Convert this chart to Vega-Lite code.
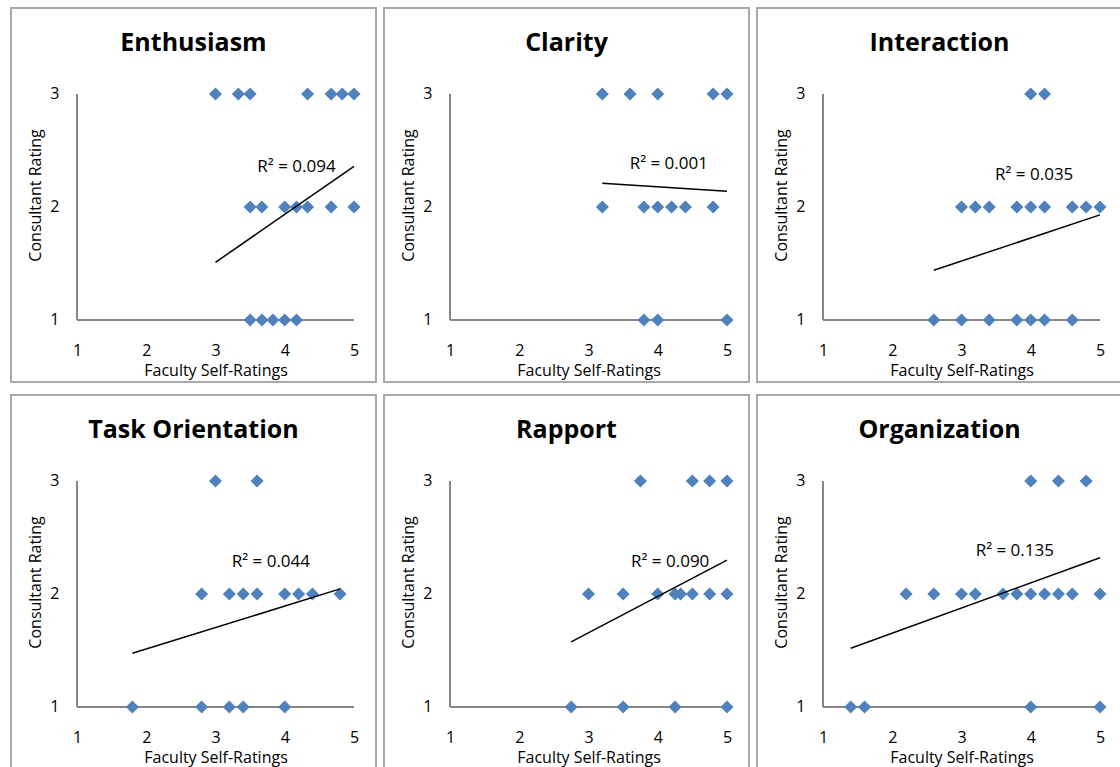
{
  "$schema": "https://vega.github.io/schema/vega-lite/v6.json",
  "padding": {"left": 10, "top": 7, "right": 0, "bottom": 0},
  "background": "white",
  "datasets": {
    "pts": [
      {"panel": "Enthusiasm", "x": 3.0, "y": 3}, {"panel": "Enthusiasm", "x": 3.33, "y": 3}, {"panel": "Enthusiasm", "x": 3.5, "y": 3}, {"panel": "Enthusiasm", "x": 4.33, "y": 3}, {"panel": "Enthusiasm", "x": 4.67, "y": 3}, {"panel": "Enthusiasm", "x": 4.83, "y": 3}, {"panel": "Enthusiasm", "x": 5.0, "y": 3},
      {"panel": "Enthusiasm", "x": 3.5, "y": 2}, {"panel": "Enthusiasm", "x": 3.67, "y": 2}, {"panel": "Enthusiasm", "x": 4.0, "y": 2}, {"panel": "Enthusiasm", "x": 4.17, "y": 2}, {"panel": "Enthusiasm", "x": 4.33, "y": 2}, {"panel": "Enthusiasm", "x": 4.67, "y": 2}, {"panel": "Enthusiasm", "x": 5.0, "y": 2},
      {"panel": "Enthusiasm", "x": 3.5, "y": 1}, {"panel": "Enthusiasm", "x": 3.67, "y": 1}, {"panel": "Enthusiasm", "x": 3.83, "y": 1}, {"panel": "Enthusiasm", "x": 4.0, "y": 1}, {"panel": "Enthusiasm", "x": 4.17, "y": 1},
      {"panel": "Clarity", "x": 3.2, "y": 3}, {"panel": "Clarity", "x": 3.6, "y": 3}, {"panel": "Clarity", "x": 4.0, "y": 3}, {"panel": "Clarity", "x": 4.8, "y": 3}, {"panel": "Clarity", "x": 5.0, "y": 3},
      {"panel": "Clarity", "x": 3.2, "y": 2}, {"panel": "Clarity", "x": 3.8, "y": 2}, {"panel": "Clarity", "x": 4.0, "y": 2}, {"panel": "Clarity", "x": 4.2, "y": 2}, {"panel": "Clarity", "x": 4.4, "y": 2}, {"panel": "Clarity", "x": 4.8, "y": 2},
      {"panel": "Clarity", "x": 3.8, "y": 1}, {"panel": "Clarity", "x": 4.0, "y": 1}, {"panel": "Clarity", "x": 5.0, "y": 1},
      {"panel": "Interaction", "x": 4.0, "y": 3}, {"panel": "Interaction", "x": 4.2, "y": 3},
      {"panel": "Interaction", "x": 3.0, "y": 2}, {"panel": "Interaction", "x": 3.2, "y": 2}, {"panel": "Interaction", "x": 3.4, "y": 2}, {"panel": "Interaction", "x": 3.8, "y": 2}, {"panel": "Interaction", "x": 4.0, "y": 2}, {"panel": "Interaction", "x": 4.2, "y": 2}, {"panel": "Interaction", "x": 4.6, "y": 2}, {"panel": "Interaction", "x": 4.8, "y": 2}, {"panel": "Interaction", "x": 5.0, "y": 2},
      {"panel": "Interaction", "x": 2.6, "y": 1}, {"panel": "Interaction", "x": 3.0, "y": 1}, {"panel": "Interaction", "x": 3.4, "y": 1}, {"panel": "Interaction", "x": 3.8, "y": 1}, {"panel": "Interaction", "x": 4.0, "y": 1}, {"panel": "Interaction", "x": 4.2, "y": 1}, {"panel": "Interaction", "x": 4.6, "y": 1},
      {"panel": "Task Orientation", "x": 3.0, "y": 3}, {"panel": "Task Orientation", "x": 3.6, "y": 3},
      {"panel": "Task Orientation", "x": 2.8, "y": 2}, {"panel": "Task Orientation", "x": 3.2, "y": 2}, {"panel": "Task Orientation", "x": 3.4, "y": 2}, {"panel": "Task Orientation", "x": 3.6, "y": 2}, {"panel": "Task Orientation", "x": 4.0, "y": 2}, {"panel": "Task Orientation", "x": 4.2, "y": 2}, {"panel": "Task Orientation", "x": 4.4, "y": 2}, {"panel": "Task Orientation", "x": 4.8, "y": 2},
      {"panel": "Task Orientation", "x": 1.8, "y": 1}, {"panel": "Task Orientation", "x": 2.8, "y": 1}, {"panel": "Task Orientation", "x": 3.2, "y": 1}, {"panel": "Task Orientation", "x": 3.4, "y": 1}, {"panel": "Task Orientation", "x": 4.0, "y": 1},
      {"panel": "Rapport", "x": 3.75, "y": 3}, {"panel": "Rapport", "x": 4.5, "y": 3}, {"panel": "Rapport", "x": 4.75, "y": 3}, {"panel": "Rapport", "x": 5.0, "y": 3},
      {"panel": "Rapport", "x": 3.0, "y": 2}, {"panel": "Rapport", "x": 3.5, "y": 2}, {"panel": "Rapport", "x": 4.0, "y": 2}, {"panel": "Rapport", "x": 4.25, "y": 2}, {"panel": "Rapport", "x": 4.33, "y": 2}, {"panel": "Rapport", "x": 4.5, "y": 2}, {"panel": "Rapport", "x": 4.75, "y": 2}, {"panel": "Rapport", "x": 5.0, "y": 2},
      {"panel": "Rapport", "x": 2.75, "y": 1}, {"panel": "Rapport", "x": 3.5, "y": 1}, {"panel": "Rapport", "x": 4.25, "y": 1}, {"panel": "Rapport", "x": 5.0, "y": 1},
      {"panel": "Organization", "x": 4.0, "y": 3}, {"panel": "Organization", "x": 4.4, "y": 3}, {"panel": "Organization", "x": 4.8, "y": 3},
      {"panel": "Organization", "x": 2.2, "y": 2}, {"panel": "Organization", "x": 2.6, "y": 2}, {"panel": "Organization", "x": 3.0, "y": 2}, {"panel": "Organization", "x": 3.2, "y": 2}, {"panel": "Organization", "x": 3.6, "y": 2}, {"panel": "Organization", "x": 3.8, "y": 2}, {"panel": "Organization", "x": 4.0, "y": 2}, {"panel": "Organization", "x": 4.2, "y": 2}, {"panel": "Organization", "x": 4.4, "y": 2}, {"panel": "Organization", "x": 4.6, "y": 2}, {"panel": "Organization", "x": 5.0, "y": 2},
      {"panel": "Organization", "x": 1.4, "y": 1}, {"panel": "Organization", "x": 1.6, "y": 1}, {"panel": "Organization", "x": 4.0, "y": 1}, {"panel": "Organization", "x": 5.0, "y": 1}
    ],
    "trend": [
      {"panel": "Enthusiasm", "x": 3.0, "y": 1.51}, {"panel": "Enthusiasm", "x": 5.0, "y": 2.36},
      {"panel": "Clarity", "x": 3.2, "y": 2.21}, {"panel": "Clarity", "x": 5.0, "y": 2.14},
      {"panel": "Interaction", "x": 2.6, "y": 1.44}, {"panel": "Interaction", "x": 5.0, "y": 1.93},
      {"panel": "Task Orientation", "x": 1.8, "y": 1.475}, {"panel": "Task Orientation", "x": 4.8, "y": 2.045},
      {"panel": "Rapport", "x": 2.75, "y": 1.576}, {"panel": "Rapport", "x": 5.0, "y": 2.30},
      {"panel": "Organization", "x": 1.4, "y": 1.52}, {"panel": "Organization", "x": 5.0, "y": 2.32}
    ],
    "labels": [
      {"panel": "Enthusiasm", "x": 4.17, "y": 2.35, "label": "R² = 0.094"},
      {"panel": "Clarity", "x": 4.16, "y": 2.38, "label": "R² = 0.001"},
      {"panel": "Interaction", "x": 4.05, "y": 2.28, "label": "R² = 0.035"},
      {"panel": "Task Orientation", "x": 3.8, "y": 2.28, "label": "R² = 0.044"},
      {"panel": "Rapport", "x": 4.18, "y": 2.285, "label": "R² = 0.090"},
      {"panel": "Organization", "x": 3.77, "y": 2.38, "label": "R² = 0.135"}
    ],
    "axisline": [{"part": "axis"}]
  },
  "vconcat": [
    {
      "hconcat": [
        {
          "title": "Enthusiasm", "width": 365, "height": 374,
          "layer": [
            {"data": {"name": "axisline"}, "mark": {"type": "rule", "color": "#868686", "strokeWidth": 2}, "encoding": {"x": {"datum": 1, "type": "quantitative"}, "x2": {"datum": 5}, "y": {"datum": 1, "type": "quantitative"}}},
            {"data": {"name": "axisline"}, "mark": {"type": "rule", "color": "#868686", "strokeWidth": 2}, "encoding": {"x": {"datum": 1, "type": "quantitative"}, "y": {"datum": 1, "type": "quantitative"}, "y2": {"datum": 3}}},
            {"data": {"name": "pts"}, "transform": [{"filter": "datum.panel === 'Enthusiasm'"}], "mark": {"type": "point", "shape": "diamond", "filled": true, "size": 170, "color": "#4F81BD", "opacity": 1},
             "encoding": {
              "x": {"field": "x", "type": "quantitative", "scale": {"domain": [0.047, 5.318], "nice": false, "zero": false}, "axis": {"values": [1, 2, 3, 4, 5], "format": "d", "title": "Faculty Self-Ratings", "titleX": 204.5}},
              "y": {"field": "y", "type": "quantitative", "scale": {"domain": [0.451, 3.761], "nice": false, "zero": false}, "axis": {"values": [1, 2, 3], "format": "d", "title": "Consultant Rating"}}}},
            {"data": {"name": "trend"}, "transform": [{"filter": "datum.panel === 'Enthusiasm'"}], "mark": {"type": "line", "color": "#000000", "strokeWidth": 1.5},
             "encoding": {"x": {"field": "x", "type": "quantitative"}, "y": {"field": "y", "type": "quantitative"}}},
            {"data": {"name": "labels"}, "transform": [{"filter": "datum.panel === 'Enthusiasm'"}], "mark": {"type": "text", "font": "Open Sans", "fontSize": 17, "color": "#000000", "align": "center", "baseline": "middle"},
             "encoding": {"x": {"field": "x", "type": "quantitative"}, "y": {"field": "y", "type": "quantitative"}, "text": {"field": "label"}}}
          ]
        },
        {
          "title": "Clarity", "width": 365, "height": 374,
          "layer": [
            {"data": {"name": "axisline"}, "mark": {"type": "rule", "color": "#868686", "strokeWidth": 2}, "encoding": {"x": {"datum": 1, "type": "quantitative"}, "x2": {"datum": 5}, "y": {"datum": 1, "type": "quantitative"}}},
            {"data": {"name": "axisline"}, "mark": {"type": "rule", "color": "#868686", "strokeWidth": 2}, "encoding": {"x": {"datum": 1, "type": "quantitative"}, "y": {"datum": 1, "type": "quantitative"}, "y2": {"datum": 3}}},
            {"data": {"name": "pts"}, "transform": [{"filter": "datum.panel === 'Clarity'"}], "mark": {"type": "point", "shape": "diamond", "filled": true, "size": 170, "color": "#4F81BD", "opacity": 1},
             "encoding": {
              "x": {"field": "x", "type": "quantitative", "scale": {"domain": [0.047, 5.318], "nice": false, "zero": false}, "axis": {"values": [1, 2, 3, 4, 5], "format": "d", "title": "Faculty Self-Ratings", "titleX": 204.5}},
              "y": {"field": "y", "type": "quantitative", "scale": {"domain": [0.451, 3.761], "nice": false, "zero": false}, "axis": {"values": [1, 2, 3], "format": "d", "title": "Consultant Rating"}}}},
            {"data": {"name": "trend"}, "transform": [{"filter": "datum.panel === 'Clarity'"}], "mark": {"type": "line", "color": "#000000", "strokeWidth": 1.5},
             "encoding": {"x": {"field": "x", "type": "quantitative"}, "y": {"field": "y", "type": "quantitative"}}},
            {"data": {"name": "labels"}, "transform": [{"filter": "datum.panel === 'Clarity'"}], "mark": {"type": "text", "font": "Open Sans", "fontSize": 17, "color": "#000000", "align": "center", "baseline": "middle"},
             "encoding": {"x": {"field": "x", "type": "quantitative"}, "y": {"field": "y", "type": "quantitative"}, "text": {"field": "label"}}}
          ]
        },
        {
          "title": "Interaction", "width": 365, "height": 374,
          "layer": [
            {"data": {"name": "axisline"}, "mark": {"type": "rule", "color": "#868686", "strokeWidth": 2}, "encoding": {"x": {"datum": 1, "type": "quantitative"}, "x2": {"datum": 5}, "y": {"datum": 1, "type": "quantitative"}}},
            {"data": {"name": "axisline"}, "mark": {"type": "rule", "color": "#868686", "strokeWidth": 2}, "encoding": {"x": {"datum": 1, "type": "quantitative"}, "y": {"datum": 1, "type": "quantitative"}, "y2": {"datum": 3}}},
            {"data": {"name": "pts"}, "transform": [{"filter": "datum.panel === 'Interaction'"}], "mark": {"type": "point", "shape": "diamond", "filled": true, "size": 170, "color": "#4F81BD", "opacity": 1},
             "encoding": {
              "x": {"field": "x", "type": "quantitative", "scale": {"domain": [0.047, 5.318], "nice": false, "zero": false}, "axis": {"values": [1, 2, 3, 4, 5], "format": "d", "title": "Faculty Self-Ratings", "titleX": 204.5}},
              "y": {"field": "y", "type": "quantitative", "scale": {"domain": [0.451, 3.761], "nice": false, "zero": false}, "axis": {"values": [1, 2, 3], "format": "d", "title": "Consultant Rating"}}}},
            {"data": {"name": "trend"}, "transform": [{"filter": "datum.panel === 'Interaction'"}], "mark": {"type": "line", "color": "#000000", "strokeWidth": 1.5},
             "encoding": {"x": {"field": "x", "type": "quantitative"}, "y": {"field": "y", "type": "quantitative"}}},
            {"data": {"name": "labels"}, "transform": [{"filter": "datum.panel === 'Interaction'"}], "mark": {"type": "text", "font": "Open Sans", "fontSize": 17, "color": "#000000", "align": "center", "baseline": "middle"},
             "encoding": {"x": {"field": "x", "type": "quantitative"}, "y": {"field": "y", "type": "quantitative"}, "text": {"field": "label"}}}
          ]
        }
      ],
      "spacing": 6
    },
    {
      "hconcat": [
        {
          "title": "Task Orientation", "width": 365, "height": 374,
          "layer": [
            {"data": {"name": "axisline"}, "mark": {"type": "rule", "color": "#868686", "strokeWidth": 2}, "encoding": {"x": {"datum": 1, "type": "quantitative"}, "x2": {"datum": 5}, "y": {"datum": 1, "type": "quantitative"}}},
            {"data": {"name": "axisline"}, "mark": {"type": "rule", "color": "#868686", "strokeWidth": 2}, "encoding": {"x": {"datum": 1, "type": "quantitative"}, "y": {"datum": 1, "type": "quantitative"}, "y2": {"datum": 3}}},
            {"data": {"name": "pts"}, "transform": [{"filter": "datum.panel === 'Task Orientation'"}], "mark": {"type": "point", "shape": "diamond", "filled": true, "size": 170, "color": "#4F81BD", "opacity": 1},
             "encoding": {
              "x": {"field": "x", "type": "quantitative", "scale": {"domain": [0.047, 5.318], "nice": false, "zero": false}, "axis": {"values": [1, 2, 3, 4, 5], "format": "d", "title": "Faculty Self-Ratings", "titleX": 204.5}},
              "y": {"field": "y", "type": "quantitative", "scale": {"domain": [0.451, 3.761], "nice": false, "zero": false}, "axis": {"values": [1, 2, 3], "format": "d", "title": "Consultant Rating"}}}},
            {"data": {"name": "trend"}, "transform": [{"filter": "datum.panel === 'Task Orientation'"}], "mark": {"type": "line", "color": "#000000", "strokeWidth": 1.5},
             "encoding": {"x": {"field": "x", "type": "quantitative"}, "y": {"field": "y", "type": "quantitative"}}},
            {"data": {"name": "labels"}, "transform": [{"filter": "datum.panel === 'Task Orientation'"}], "mark": {"type": "text", "font": "Open Sans", "fontSize": 17, "color": "#000000", "align": "center", "baseline": "middle"},
             "encoding": {"x": {"field": "x", "type": "quantitative"}, "y": {"field": "y", "type": "quantitative"}, "text": {"field": "label"}}}
          ]
        },
        {
          "title": "Rapport", "width": 365, "height": 374,
          "layer": [
            {"data": {"name": "axisline"}, "mark": {"type": "rule", "color": "#868686", "strokeWidth": 2}, "encoding": {"x": {"datum": 1, "type": "quantitative"}, "x2": {"datum": 5}, "y": {"datum": 1, "type": "quantitative"}}},
            {"data": {"name": "axisline"}, "mark": {"type": "rule", "color": "#868686", "strokeWidth": 2}, "encoding": {"x": {"datum": 1, "type": "quantitative"}, "y": {"datum": 1, "type": "quantitative"}, "y2": {"datum": 3}}},
            {"data": {"name": "pts"}, "transform": [{"filter": "datum.panel === 'Rapport'"}], "mark": {"type": "point", "shape": "diamond", "filled": true, "size": 170, "color": "#4F81BD", "opacity": 1},
             "encoding": {
              "x": {"field": "x", "type": "quantitative", "scale": {"domain": [0.047, 5.318], "nice": false, "zero": false}, "axis": {"values": [1, 2, 3, 4, 5], "format": "d", "title": "Faculty Self-Ratings", "titleX": 204.5}},
              "y": {"field": "y", "type": "quantitative", "scale": {"domain": [0.451, 3.761], "nice": false, "zero": false}, "axis": {"values": [1, 2, 3], "format": "d", "title": "Consultant Rating"}}}},
            {"data": {"name": "trend"}, "transform": [{"filter": "datum.panel === 'Rapport'"}], "mark": {"type": "line", "color": "#000000", "strokeWidth": 1.5},
             "encoding": {"x": {"field": "x", "type": "quantitative"}, "y": {"field": "y", "type": "quantitative"}}},
            {"data": {"name": "labels"}, "transform": [{"filter": "datum.panel === 'Rapport'"}], "mark": {"type": "text", "font": "Open Sans", "fontSize": 17, "color": "#000000", "align": "center", "baseline": "middle"},
             "encoding": {"x": {"field": "x", "type": "quantitative"}, "y": {"field": "y", "type": "quantitative"}, "text": {"field": "label"}}}
          ]
        },
        {
          "title": "Organization", "width": 365, "height": 374,
          "layer": [
            {"data": {"name": "axisline"}, "mark": {"type": "rule", "color": "#868686", "strokeWidth": 2}, "encoding": {"x": {"datum": 1, "type": "quantitative"}, "x2": {"datum": 5}, "y": {"datum": 1, "type": "quantitative"}}},
            {"data": {"name": "axisline"}, "mark": {"type": "rule", "color": "#868686", "strokeWidth": 2}, "encoding": {"x": {"datum": 1, "type": "quantitative"}, "y": {"datum": 1, "type": "quantitative"}, "y2": {"datum": 3}}},
            {"data": {"name": "pts"}, "transform": [{"filter": "datum.panel === 'Organization'"}], "mark": {"type": "point", "shape": "diamond", "filled": true, "size": 170, "color": "#4F81BD", "opacity": 1},
             "encoding": {
              "x": {"field": "x", "type": "quantitative", "scale": {"domain": [0.047, 5.318], "nice": false, "zero": false}, "axis": {"values": [1, 2, 3, 4, 5], "format": "d", "title": "Faculty Self-Ratings", "titleX": 204.5}},
              "y": {"field": "y", "type": "quantitative", "scale": {"domain": [0.451, 3.761], "nice": false, "zero": false}, "axis": {"values": [1, 2, 3], "format": "d", "title": "Consultant Rating"}}}},
            {"data": {"name": "trend"}, "transform": [{"filter": "datum.panel === 'Organization'"}], "mark": {"type": "line", "color": "#000000", "strokeWidth": 1.5},
             "encoding": {"x": {"field": "x", "type": "quantitative"}, "y": {"field": "y", "type": "quantitative"}}},
            {"data": {"name": "labels"}, "transform": [{"filter": "datum.panel === 'Organization'"}], "mark": {"type": "text", "font": "Open Sans", "fontSize": 17, "color": "#000000", "align": "center", "baseline": "middle"},
             "encoding": {"x": {"field": "x", "type": "quantitative"}, "y": {"field": "y", "type": "quantitative"}, "text": {"field": "label"}}}
          ]
        }
      ],
      "spacing": 6
    }
  ],
  "spacing": 11,
  "config": {
    "view": {"stroke": "#a9a9a9", "strokeWidth": 2},
    "axis": {"grid": false, "domain": false, "ticks": false, "tickSize": 0, "labelFont": "Open Sans", "labelFontSize": 16, "labelColor": "#000000", "titleFont": "Open Sans", "titleFontSize": 16, "titleFontWeight": "normal", "titleColor": "#000000", "labelFlush": false, "labelOverlap": false, "labelBound": false},
    "axisX": {"offset": -62, "labelPadding": 22, "titlePadding": 4},
    "axisY": {"offset": -66, "labelPadding": 18, "titlePadding": 6},
    "title": {"font": "Open Sans", "fontSize": 25, "fontWeight": "bold", "color": "#000000", "anchor": "middle", "frame": "group", "offset": -48, "baseline": "alphabetic"}
  }
}
